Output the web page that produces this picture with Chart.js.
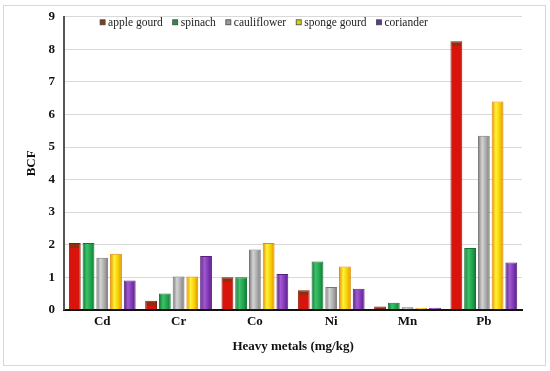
<!DOCTYPE html>
<html>
<head>
<meta charset="utf-8">
<script src="https://cdn.jsdelivr.net/npm/chart.js@4/dist/chart.umd.min.js"></script>
<style>
  body { margin: 0; background: #fff; }
  #wrap { position: relative; width: 550px; height: 371px; }
  #frame { position: absolute; left: 3px; top: 5px; width: 541px; height: 359px; border: 1px solid #d8d8d8; }
  canvas { position: absolute; left: 0; top: 0; }
</style>
</head>
<body>
<div id="wrap">
  <div id="frame"></div>
  <canvas id="myChart" width="550" height="371"></canvas>
</div>
<script>
// data
var metals = ["Cd", "Cr", "Co", "Ni", "Mn", "Pb"];
var appleGourd = [2.05, 0.28, 1.0, 0.6, 0.1, 8.25];
var spinach = [2.05, 0.5, 1.0, 1.48, 0.22, 1.9];
var cauliflower = [1.6, 1.02, 1.85, 0.7, 0.08, 5.35];
var spongeGourd = [1.72, 1.02, 2.05, 1.33, 0.06, 6.4];
var coriander = [0.9, 1.65, 1.1, 0.65, 0.06, 1.45];
var yTicks = [0, 1, 2, 3, 4, 5, 6, 7, 8, 9];

var serif = "'Liberation Serif', 'Times New Roman', serif";

// cylinder-ish look: horizontal gradient over each bar
function cylinder(light, mid, dark) {
    return function (ctx) {
        var el = ctx.element;
        var chart = ctx.chart;
        if (!el || !el.width || !chart.chartArea) return mid;
        var x0 = el.x - el.width / 2, x1 = el.x + el.width / 2;
        var g = chart.ctx.createLinearGradient(x0, 0, x1, 0);
        g.addColorStop(0, dark);
        g.addColorStop(0.35, light);
        g.addColorStop(0.7, mid);
        g.addColorStop(1, dark);
        return g;
    };
}

// apple gourd bars: red body with a brown top cap
function capped(body, cap) {
    return function (ctx) {
        var el = ctx.element;
        var chart = ctx.chart;
        if (!el || !el.base || !chart.chartArea) return body;
        var h = el.base - el.y;
        if (h <= 0) return cap;
        var g = chart.ctx.createLinearGradient(0, el.y, 0, el.base);
        var f = Math.min(1, 5 / h);
        g.addColorStop(0, cap);
        g.addColorStop(f, cap);
        g.addColorStop(Math.min(1, f + 0.001), body);
        g.addColorStop(1, body);
        return g;
    };
}

function dataset(label, data, fill, dark, legendColor) {
    return {
        label: label,
        data: data,
        backgroundColor: fill,
        borderColor: dark,
        borderWidth: 1,
        legendColor: legendColor
    };
}

// legend drawn in one row inside the plot, just under the top gridline
var rowLegend = {
    id: 'rowLegend',
    afterDraw: function (chart) {
        var c = chart.ctx;
        var area = chart.chartArea;
        var x = area.left + 36;
        var y = area.top + 6;
        c.save();
        c.font = "11.5px " + serif;
        c.textBaseline = 'middle';
        chart.data.datasets.forEach(function (ds) {
            c.fillStyle = ds.legendColor;
            c.fillRect(x, y - 3, 5, 5);
            c.strokeStyle = "#444";
            c.lineWidth = 0.8;
            c.strokeRect(x, y - 3, 5, 5);
            c.fillStyle = "#222";
            c.fillText(ds.label, x + 8, y);
            x += 8 + c.measureText(ds.label).width + 10;
        });
        c.restore();
    }
};

var context = document.getElementById("myChart").getContext("2d");
var myChart = new Chart(context, {
    type: 'bar',
    data: {
        labels: metals,
        datasets: [
            dataset("apple gourd", appleGourd, capped("#d8140c", "#8f2e0e"), "#8a1c0c", "#8a3a12"),
            dataset("spinach", spinach, cylinder("#3cc26a", "#1fa34c", "#137434"), "#137434", "#2e8b4a"),
            dataset("cauliflower", cauliflower, cylinder("#d4d4d4", "#a8a8a8", "#767676"), "#767676", "#9a9a9a"),
            dataset("sponge gourd", spongeGourd, cylinder("#fff23a", "#f6cc00", "#e08a00"), "#e08a00", "#d8d200"),
            dataset("coriander", coriander, cylinder("#a15ad0", "#7e35b4", "#55207e"), "#55207e", "#5a3a9a")
        ]
    },
    plugins: [rowLegend],
    options: {
        responsive: false,
        animation: false,
        layout: { padding: { left: 20, right: 28, top: 2, bottom: 13 } },
        datasets: {
            bar: { categoryPercentage: 0.9, barPercentage: 0.86 }
        },
        plugins: {
            tooltip: { enabled: false },
            legend: { display: false }
        },
        scales: {
            x: {
                grid: { display: false, drawTicks: false },
                border: { color: "#111", width: 2 },
                ticks: { color: "#111", font: { family: serif, size: 13, weight: 'bold' }, padding: 4 },
                title: {
                    display: true,
                    text: "Heavy metals (mg/kg)",
                    color: "#111",
                    font: { family: serif, size: 13, weight: 'bold' },
                    padding: { top: 5 }
                }
            },
            y: {
                min: 0,
                max: 9,
                afterBuildTicks: function (axis) {
                    axis.ticks = yTicks.map(function (v) { return { value: v }; });
                },
                grid: { color: "#d9d9d9", drawTicks: false },
                border: { color: "#555", width: 2 },
                ticks: { color: "#111", font: { family: serif, size: 13, weight: 'bold' }, padding: 9 },
                title: {
                    display: true,
                    text: "BCF",
                    color: "#111",
                    font: { family: serif, size: 13, weight: 'bold' },
                    padding: { bottom: 0 }
                }
            }
        }
    }
});
// second pass so the gradients can use the bar geometry
myChart.update();
</script>
</body>
</html>
